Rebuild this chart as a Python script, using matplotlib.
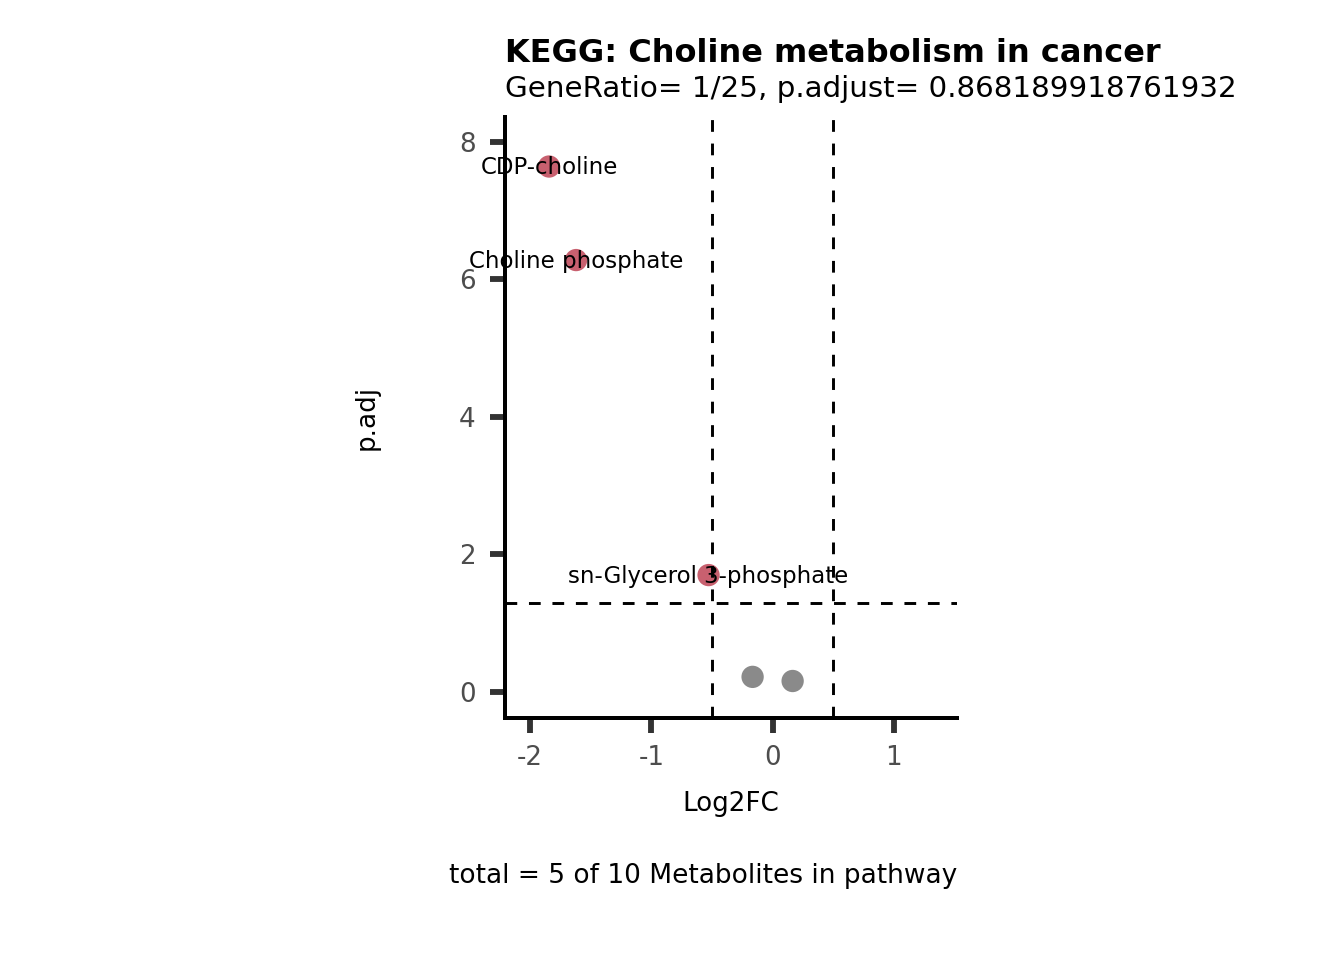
import matplotlib
matplotlib.use("Agg")
import matplotlib.pyplot as plt

# metabolites in the pathway
names = ["CDP-choline", "Choline phosphate", "sn-Glycerol 3-phosphate", "", ""]
log2fc = [-1.843, -1.62, -0.528, -0.165, 0.165]
padj = [7.64, 6.28, 1.70, 0.22, 0.16]
signif = [True, True, True, False, False]

W, H = 1344, 960
fig = plt.figure(figsize=(7, 5), dpi=192)
ax = fig.add_axes([505 / W, 1 - 718 / H, (957 - 505) / W, (718 - 117) / H])

cols = ["#C8606F" if s else "#8A8A8A" for s in signif]
ax.scatter(log2fc, padj, s=70, c=cols, edgecolors="none", zorder=2)

ax.axvline(-0.5, color="black", ls=(0, (4, 4)), lw=1.1, zorder=3)
ax.axvline(0.5, color="black", ls=(0, (4, 4)), lw=1.1, zorder=3)
ax.axhline(1.30103, color="black", ls=(0, (4, 4)), lw=1.1, zorder=3)

for n, x, y in zip(names, log2fc, padj):
    if n:
        ax.text(x, y - 0.02, n, ha="center", va="center", fontsize=8.6, zorder=4)

ax.set_xlim(-2.206, 1.52)
ax.set_ylim(-0.378, 8.36)
ax.set_xticks([-2, -1, 0, 1])
ax.set_xticklabels(["-2", "-1", "0", "1"])
ax.set_yticks([0, 2, 4, 6, 8])

for s in ["top", "right"]:
    ax.spines[s].set_visible(False)
for s in ["left", "bottom"]:
    ax.spines[s].set_linewidth(1.5)
    ax.spines[s].set_color("black")
ax.tick_params(length=5.5, width=2.2, color="#333333", labelcolor="#4D4D4D",
               labelsize=9.8)
ax.tick_params(axis="y", pad=5.5)
ax.tick_params(axis="x", pad=4.5)

ax.set_xlabel("Log2FC", fontsize=9.8)
ax.xaxis.set_label_coords(0.5, -0.121)
ax.set_ylabel("p.adj", fontsize=9.8)
ax.yaxis.set_label_coords(-0.278, 0.5)

fig.text(505 / W, 1 - 62 / H, "KEGG: Choline metabolism in cancer",
         fontsize=12, fontweight="bold", ha="left", va="baseline")
fig.text(505 / W, 1 - 97 / H, "GeneRatio= 1/25, p.adjust= 0.868189918761932",
         fontsize=11, ha="left", va="baseline")
fig.text(957 / W, 1 - 876 / H, "total = 5 of 10 Metabolites in pathway",
         fontsize=9.9, ha="right", va="center")

fig.savefig("out.png", dpi=192)
